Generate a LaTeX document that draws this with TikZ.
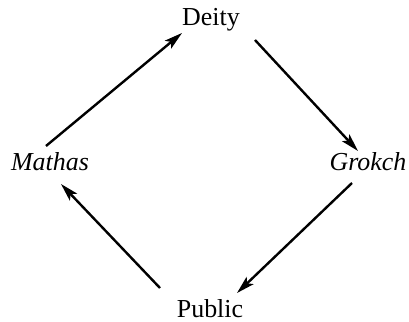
\documentclass[tikz,border=0pt]{standalone}
\usepackage{fontspec}
\setmainfont{Liberation Serif}
\usetikzlibrary{arrows.meta}
\begin{document}
\begin{tikzpicture}[x=1bp,y=1bp,
  lbl/.style={anchor=base,inner sep=0pt,font=\fontsize{26}{30}\selectfont},
  arr/.style={line width=2.4bp,-{Stealth[length=18bp,width=10bp,inset=4bp]}}]
\useasboundingbox (0,0) rectangle (409,322);
\node[lbl] (deity) at (211,297) {Deity};
\node[lbl] (mathas) at (50,152) {\textit{Mathas}};
\node[lbl] (grokch) at (368,152) {\textit{Grokch}};
\node[lbl] (public) at (210,5) {Public};
\coordinate (m1) at (46,176);
\coordinate (d1) at (182,289);
\coordinate (d2) at (255,282);
\coordinate (g1) at (358,171);
\coordinate (g2) at (352,139);
\coordinate (p1) at (237,29);
\coordinate (p2) at (160,34);
\coordinate (m2) at (61,138);
\draw[arr] (m1) -- (d1);
\draw[arr] (d2) -- (g1);
\draw[arr] (g2) -- (p1);
\draw[arr] (p2) -- (m2);
\end{tikzpicture}
\end{document}
